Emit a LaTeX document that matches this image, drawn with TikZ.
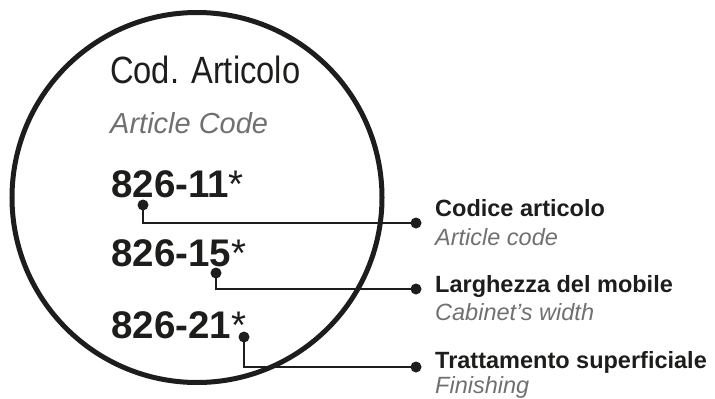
\documentclass[tikz,border=0pt]{standalone}
\usepackage{fontspec}
\setmainfont{Liberation Sans}
\newfontfamily\condfont[FakeStretch=0.86]{Liberation Sans}
\usetikzlibrary{positioning}
\definecolor{inkcolor}{RGB}{29,29,27}
\definecolor{subcolor}{RGB}{112,112,112}
\tikzset{
    ring/.style={circle, draw=inkcolor, line width=5pt, minimum size=370pt, inner sep=0pt},
    headtext/.style={anchor=base west, inner sep=0pt, text=inkcolor,
        font=\condfont\fontsize{38}{42}\selectfont},
    headsub/.style={anchor=base west, inner sep=0pt, text=subcolor,
        font=\itshape\fontsize{29}{33}\selectfont},
    codetext/.style={anchor=base west, inner sep=0pt, text=inkcolor,
        font=\bfseries\fontsize{38.5}{42}\selectfont},
    lblmain/.style={anchor=base west, inner sep=0pt, text=inkcolor,
        font=\bfseries\fontsize{23.5}{27}\selectfont},
    lblsub/.style={anchor=base west, inner sep=0pt, text=subcolor,
        font=\itshape\fontsize{23.5}{27}\selectfont},
    dot/.style={circle, fill=inkcolor, inner sep=0pt, minimum size=11pt},
    conn/.style={draw=inkcolor, line width=2.6pt}
}
\newcommand{\codestar}{\textmd{*}}

\begin{document}
\begin{tikzpicture}[x=1pt, y=-1pt]
    \useasboundingbox (0,0) rectangle (715,399);
    \node[ring] (lens) at (197,197.5) {};

    % inside the lens
    \node[headtext] (title) at (110,83) {Cod. Articolo};
    \node[headsub] (titlesub) at (110,133) {Article Code};
    \node[codetext] (code1) at (111,197) {826-11\codestar};
    \node[codetext] (code2) at (111,266) {826-15\codestar};
    \node[codetext] (code3) at (111,338) {826-21\codestar};

    % legend on the right
    \node[lblmain] (art) at (435,216) {Codice articolo};
    \node[lblsub] (artsub) at (435,245) {Article code};
    \node[lblmain] (wid) at (435,292) {Larghezza del mobile};
    \node[lblsub] (widsub) at (435,320) {Cabinet’s width};
    \node[lblmain] (fin) at (435,368) {Trattamento superficiale};
    \node[lblsub] (finsub) at (435,393) {Finishing};

    % dots
    \node[dot] (artfrom) at (143,205) {};
    \node[dot] (artto) at (416,223) {};
    \node[dot] (widfrom) at (216,273) {};
    \node[dot] (widto) at (416,289) {};
    \node[dot] (finfrom) at (244,337) {};
    \node[dot] (finto) at (416,367) {};

    \draw[conn] (artfrom.center) |- (artto.center);
    \draw[conn] (widfrom.center) |- (widto.center);
    \draw[conn] (finfrom.center) |- (finto.center);
\end{tikzpicture}
\end{document}
